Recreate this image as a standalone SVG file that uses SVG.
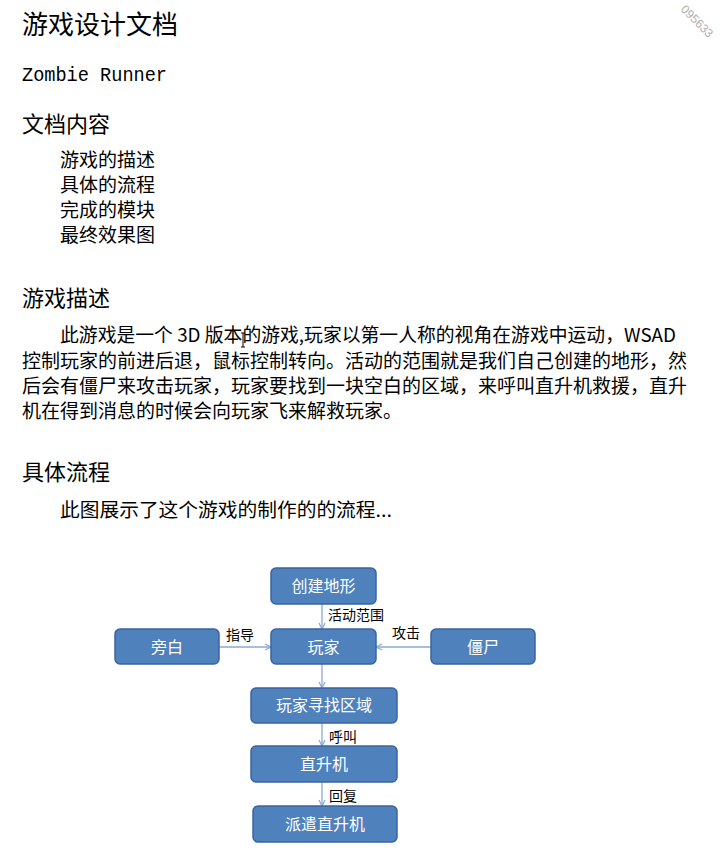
<svg xmlns="http://www.w3.org/2000/svg" width="728" height="851" viewBox="0 0 728 851">
<style>
.t{font-family:"Noto Sans CJK SC","Liberation Sans",sans-serif;fill:#000}
.box{fill:#4F81BD;stroke:#3A64A0;stroke-width:1.5}
.bt{font-family:"Noto Sans CJK SC","Liberation Sans",sans-serif;font-size:16px;fill:#fff;text-anchor:middle}
.lb{font-family:"Noto Sans CJK SC","Liberation Sans",sans-serif;font-size:14px;fill:#000}
.c{stroke:#8AA8D6;stroke-width:1.3;fill:none}
</style>
<defs>
<marker id="ah" markerWidth="8" markerHeight="8" refX="7" refY="4" orient="auto" markerUnits="userSpaceOnUse">
<path d="M1,1 L7,4 L1,7" fill="none" stroke="#8AA8D6" stroke-width="1.2"/>
</marker>
</defs>
<rect width="728" height="851" fill="#fff"/>
<text x="680" y="10" font-family="Liberation Sans,sans-serif" font-size="12" fill="#b0b0b0" transform="rotate(45 680 10)">095633</text>
<g id="document-text">
<text class="t" x="22" y="33.5" font-size="26">游戏设计文档</text>
<text x="22" y="81" font-family="Liberation Mono,monospace" font-size="20" textLength="145" lengthAdjust="spacingAndGlyphs">Zombie Runner</text>
<text class="t" x="22" y="132" font-size="22">文档内容</text>
<text class="t" x="60" y="167" font-size="19">游戏的描述</text>
<text class="t" x="60" y="192" font-size="19">具体的流程</text>
<text class="t" x="60" y="217" font-size="19">完成的模块</text>
<text class="t" x="60" y="242" font-size="19">最终效果图</text>
<text class="t" x="22" y="306" font-size="22">游戏描述</text>
<text class="t" x="60" y="342" font-size="19" textLength="616" lengthAdjust="spacingAndGlyphs">此游戏是一个 3D 版本的游戏,玩家以第一人称的视角在游戏中运动，WSAD</text>
<text class="t" x="22" y="367.5" font-size="19">控制玩家的前进后退，鼠标控制转向。活动的范围就是我们自己创建的地形，然</text>
<text class="t" x="22" y="393" font-size="19">后会有僵尸来攻击玩家，玩家要找到一块空白的区域，来呼叫直升机救援，直升</text>
<text class="t" x="22" y="418" font-size="19">机在得到消息的时候会向玩家飞来解救玩家。</text>
<text class="t" x="22" y="480" font-size="22">具体流程</text>
<text class="t" x="60" y="517" font-size="19" textLength="332" lengthAdjust="spacingAndGlyphs">此图展示了这个游戏的制作的的流程...</text>
</g>
<path d="M241,333 h4 M243,333 v14 M241,347 h4" stroke="#000" stroke-width="1" fill="none"/>
<g id="connectors">
<line class="c" x1="322" y1="604" x2="322" y2="629" marker-end="url(#ah)"/>
<line class="c" x1="219" y1="647" x2="271" y2="647" marker-end="url(#ah)"/>
<line class="c" x1="431" y1="647" x2="376" y2="647" marker-end="url(#ah)"/>
<line class="c" x1="322" y1="664" x2="322" y2="688" marker-end="url(#ah)"/>
<line class="c" x1="322" y1="723" x2="322" y2="746" marker-end="url(#ah)"/>
<line class="c" x1="322" y1="782" x2="322" y2="806" marker-end="url(#ah)"/>
<text class="lb" x="328" y="620">活动范围</text>
<text class="lb" x="226" y="640">指导</text>
<text class="lb" x="392" y="638">攻击</text>
<text class="lb" x="329" y="742">呼叫</text>
<text class="lb" x="329" y="801">回复</text>
</g>
<g id="node-terrain"><rect class="box" x="271" y="568" width="105" height="36" rx="5"/><text class="bt" x="323.5" y="592">创建地形</text></g>
<g id="node-player"><rect class="box" x="271" y="629" width="105" height="35" rx="5"/><text class="bt" x="323.5" y="652.5">玩家</text></g>
<g id="node-narrator"><rect class="box" x="115" y="629" width="104" height="35" rx="5"/><text class="bt" x="167" y="652.5">旁白</text></g>
<g id="node-zombie"><rect class="box" x="431" y="629" width="104" height="35" rx="5"/><text class="bt" x="483" y="652.5">僵尸</text></g>
<g id="node-find-area"><rect class="box" x="251" y="688" width="146" height="35" rx="5"/><text class="bt" x="324" y="711">玩家寻找区域</text></g>
<g id="node-helicopter"><rect class="box" x="251" y="746" width="146" height="36" rx="5"/><text class="bt" x="324" y="770">直升机</text></g>
<g id="node-dispatch"><rect class="box" x="253" y="806" width="144" height="36" rx="5"/><text class="bt" x="325" y="830">派遣直升机</text></g>
</svg>
